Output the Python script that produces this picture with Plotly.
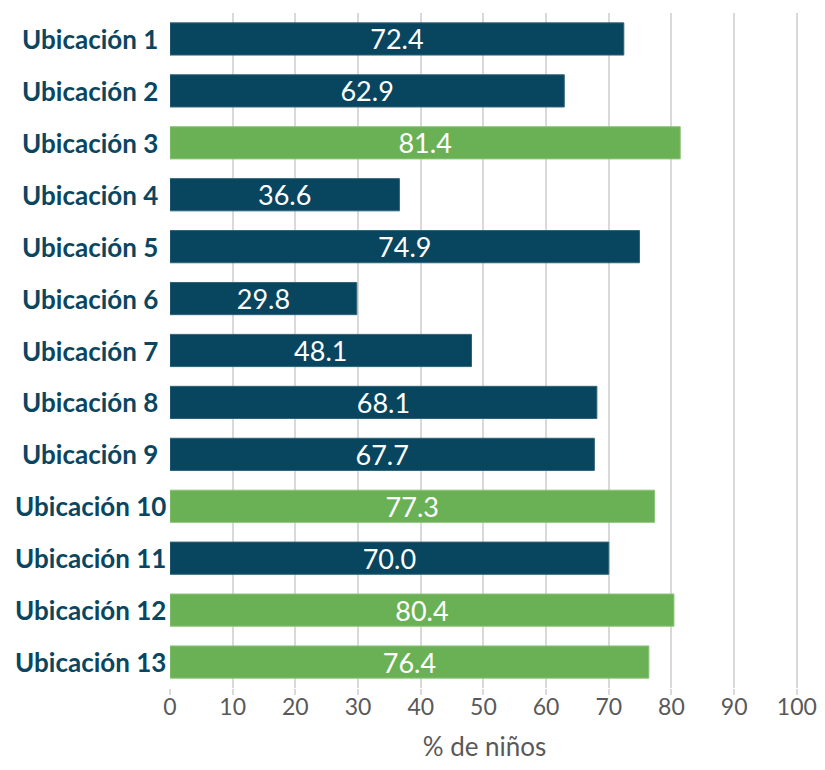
import plotly.graph_objects as go

categories = ["Ubicación 1", "Ubicación 2", "Ubicación 3", "Ubicación 4", "Ubicación 5",
              "Ubicación 6", "Ubicación 7", "Ubicación 8", "Ubicación 9", "Ubicación 10",
              "Ubicación 11", "Ubicación 12", "Ubicación 13"]
values = [72.4, 62.9, 81.4, 36.6, 74.9, 29.8, 48.1, 68.1, 67.7, 77.3, 70.0, 80.4, 76.4]
highlight = [False, False, True, False, False, False, False, False, False, True, False, True, True]
x_ticks = [0, 10, 20, 30, 40, 50, 60, 70, 80, 90, 100]

DARK = "#08455f"
GREEN = "#6ab155"
colors = [GREEN if h else DARK for h in highlight]
line_colors = ["#8cc47a" if h else "#2f6379" for h in highlight]

font_family = "Lato, 'Open Sans', sans-serif"

fig = go.Figure(go.Bar(
    x=values,
    y=categories,
    orientation="h",
    marker=dict(color=colors, line=dict(color=line_colors, width=1)),
    text=[f"{v:.1f}" for v in values],
    textposition="inside",
    insidetextanchor="middle",
    textfont=dict(color="white", size=27, family=font_family),
    constraintext="none",
    width=0.62,
))

# category labels, centred in the left margin like the original
for cat in categories:
    fig.add_annotation(
        x=-0.127, xref="paper", y=cat, yref="y",
        text=f"<b>{cat}</b>", showarrow=False, xanchor="center", yanchor="middle",
        font=dict(size=26, color="#0a4660", family=font_family),
    )

fig.update_layout(
    width=817, height=754,
    margin=dict(l=162, r=26, t=5, b=74, autoexpand=False),
    plot_bgcolor="white", paper_bgcolor="white",
    showlegend=False,
    font=dict(family=font_family),
)
fig.update_xaxes(
    range=[0, 100.35],
    tickvals=x_ticks,
    ticktext=[str(t) for t in x_ticks],
    showgrid=True, gridcolor="#d9d9d9", gridwidth=2,
    zeroline=False,
    showline=False,
    automargin=False,
    ticklabeloverflow="allow",
    tickfont=dict(size=23, color="#595959", family=font_family),
    ticks="outside", ticklen=6, tickcolor="#d9d9d9", tickwidth=2,
    ticklabelstandoff=-8,
    title=dict(text="% de niños", font=dict(size=26, color="#595959", family=font_family), standoff=24),
)
fig.update_yaxes(
    categoryorder="array", categoryarray=categories,
    autorange="reversed",
    showgrid=False, showline=False, zeroline=False,
    automargin=False,
    showticklabels=False,
)

fig.write_html("out.html")
